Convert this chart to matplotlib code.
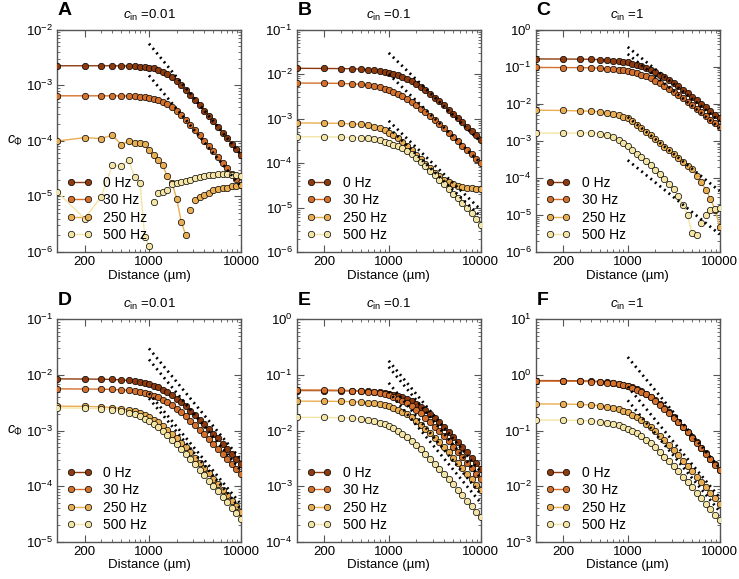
import numpy as np
import matplotlib
matplotlib.use("Agg")
import matplotlib.pyplot as plt
from matplotlib.lines import Line2D
from matplotlib.ticker import FixedLocator, FixedFormatter, LogLocator, NullFormatter

plt.rcParams['font.family'] = 'Liberation Sans'
plt.rcParams['mathtext.fontset'] = 'custom'
plt.rcParams['mathtext.rm'] = 'Liberation Sans'
plt.rcParams['mathtext.it'] = 'Liberation Sans:italic'
plt.rcParams['mathtext.bf'] = 'Liberation Sans:bold'

# ---------------------------
# DATA
# ---------------------------
freq_labels = ['0 Hz', '30 Hz', '250 Hz', '500 Hz']
freq_colors = ['#8c3a0e', '#d2702c', '#e9ad52', '#f4e5a6']

distance = [100, 200, 300, 400, 500, 600, 700, 800, 900, 1000,
            1120, 1260, 1410, 1580, 1780, 2000, 2240, 2510, 2820, 3160,
            3550, 3980, 4470, 5010, 5620, 6310, 7080, 7940, 8910, 10000]

# negative values = sign flip (marker shows |c|, line only where c > 0)
a_0hz = [2.24e-3, 2.24e-3, 2.24e-3, 2.235e-3, 2.23e-3, 2.22e-3, 2.2e-3, 2.17e-3, 2.13e-3, 2.08e-3,
         2.0e-3, 1.89e-3, 1.75e-3, 1.58e-3, 1.39e-3, 1.19e-3, 1.0e-3, 8.28e-4, 6.75e-4, 5.46e-4,
         4.38e-4, 3.51e-4, 2.8e-4, 2.23e-4, 1.77e-4, 1.41e-4, 1.12e-4, 8.9e-5, 7.1e-5, 5.6e-5]
a_30hz = [6.45e-4, 6.45e-4, 6.45e-4, 6.44e-4, 6.42e-4, 6.39e-4, 6.33e-4, 6.25e-4, 6.14e-4, 6.0e-4,
          5.77e-4, 5.46e-4, 5.06e-4, 4.56e-4, 4.02e-4, 3.44e-4, 2.89e-4, 2.39e-4, 1.95e-4, 1.57e-4,
          1.26e-4, 1.01e-4, 8.07e-5, 6.43e-5, 5.12e-5, 4.07e-5, 3.23e-5, 2.57e-5, 2.04e-5, 1.62e-5]
a_250hz = [9.9e-5, 1.14e-4, 1.10e-4, 1.26e-4, 8.55e-5, 9.9e-5, 9.1e-5, 9.1e-5, 8.65e-5, 6.7e-5,
           5.5e-5, 4.5e-5, 3.6e-5, 2.3e-5, 1.74e-5, 9.1e-6, 3.5e-6, 2.0e-6, -5.6e-6, -8.5e-6,
           -9.7e-6, -1.04e-5, -1.15e-5, -1.28e-5, -1.37e-5, -1.4e-5, -1.43e-5, -1.51e-5, -1.55e-5, -1.58e-5]
a_500hz = [1.2e-5, 4.0e-6, 9.7e-6, 3.6e-5, 3.5e-5, 4.5e-5, 2.2e-5, 1.74e-5, 1.85e-6, 1.3e-6,
           -7.9e-6, -1.15e-5, -1.2e-5, -1.28e-5, -1.7e-5, -1.75e-5, -1.8e-5, -1.9e-5, -2.0e-5, -2.1e-5,
           -2.2e-5, -2.3e-5, -2.4e-5, -2.45e-5, -2.5e-5, -2.55e-5, -2.5e-5, -2.45e-5, -2.4e-5, -2.3e-5]

b_0hz = [1.35e-2, 1.34e-2, 1.33e-2, 1.32e-2, 1.29e-2, 1.26e-2, 1.22e-2, 1.18e-2, 1.13e-2, 1.08e-2,
         1.02e-2, 9.44e-3, 8.62e-3, 7.75e-3, 6.85e-3, 5.96e-3, 5.1e-3, 4.31e-3, 3.6e-3, 2.97e-3,
         2.43e-3, 1.98e-3, 1.6e-3, 1.29e-3, 1.04e-3, 8.3e-4, 6.63e-4, 5.3e-4, 4.22e-4, 3.36e-4]
b_30hz = [6.30e-3, 6.26e-3, 6.18e-3, 6.04e-3, 5.85e-3, 5.61e-3, 5.35e-3, 5.05e-3, 4.74e-3, 4.42e-3,
          4.03e-3, 3.62e-3, 3.2e-3, 2.79e-3, 2.39e-3, 2.02e-3, 1.68e-3, 1.39e-3, 1.14e-3, 9.27e-4,
          7.5e-4, 6.04e-4, 4.85e-4, 3.88e-4, 3.1e-4, 2.48e-4, 1.97e-4, 1.57e-4, 1.25e-4, 9.96e-5]
b_250hz = [8.0e-4, 7.9e-4, 7.8e-4, 7.6e-4, 7.4e-4, 7.1e-4, 6.6e-4, 6.0e-4, 5.4e-4, 4.8e-4,
           4.2e-4, 3.6e-4, 3.0e-4, 2.45e-4, 1.95e-4, 1.55e-4, 1.22e-4, 9.6e-5, 7.6e-5, 6.1e-5,
           5.0e-5, 4.25e-5, 3.7e-5, 3.3e-5, 3.05e-5, 2.9e-5, 2.8e-5, 2.72e-5, 2.67e-5, 2.63e-5]
b_500hz = [3.9e-4, 3.9e-4, 3.8e-4, 3.75e-4, 3.7e-4, 3.6e-4, 3.45e-4, 3.25e-4, 3.05e-4, 2.8e-4,
           2.6e-4, 2.4e-4, 2.15e-4, 1.9e-4, 1.6e-4, 1.3e-4, 1.05e-4, 8.4e-5, 6.7e-5, 5.3e-5,
           4.2e-5, 3.3e-5, 2.6e-5, 2.05e-5, 1.6e-5, 1.25e-5, 9.8e-6, 7.6e-6, 5.6e-6, 4.0e-6]

c_0hz = [0.162, 0.161, 0.160, 0.158, 0.155, 0.152, 0.147, 0.142, 0.136, 0.130,
         0.122, 0.1135, 0.1036, 0.0932, 0.0823, 0.0716, 0.0613, 0.0518, 0.0433, 0.0357,
         0.0293, 0.0238, 0.0193, 0.0155, 0.0125, 0.00998, 0.00798, 0.00637, 0.00508, 0.00404]
c_30hz = [0.0954, 0.0948, 0.0942, 0.0931, 0.0914, 0.0893, 0.0866, 0.0836, 0.0802, 0.0767,
          0.0721, 0.0668, 0.061, 0.0549, 0.0485, 0.0422, 0.0361, 0.0305, 0.0255, 0.021,
          0.0173, 0.014, 0.01135, 0.00913, 0.00734, 0.00588, 0.0047, 0.00375, 0.00299, 0.00238]
c_250hz = [6.7e-3, 6.6e-3, 6.4e-3, 6.3e-3, 6.0e-3, 5.7e-3, 5.3e-3, 4.9e-3, 4.5e-3, 4.1e-3,
           3.4e-3, 2.75e-3, 2.2e-3, 1.75e-3, 1.4e-3, 1.1e-3, 8.7e-4, 6.9e-4, 5.5e-4, 4.35e-4,
           3.45e-4, 2.7e-4, 2.15e-4, 1.7e-4, 1.15e-4, 7.5e-5, 4.8e-5, 2.65e-5, 1.39e-5, 4.7e-6]
c_500hz = [1.63e-3, 1.6e-3, 1.62e-3, 1.63e-3, 1.55e-3, 1.42e-3, 1.23e-3, 1.04e-3, 8.8e-4, 7.1e-4,
           5.8e-4, 4.5e-4, 3.7e-4, 2.9e-4, 2.2e-4, 1.68e-4, 1.31e-4, 9.6e-5, 7.0e-5, 5.1e-5,
           3.2e-5, 1.8e-5, 9.8e-6, 3.2e-6, 2.8e-6, -6.2e-6, -9.8e-6, -1.34e-5, -1.48e-5, -1.5e-5]

d_0hz = [8.5e-3, 8.45e-3, 8.4e-3, 8.3e-3, 8.14e-3, 7.96e-3, 7.72e-3, 7.45e-3, 7.15e-3, 6.83e-3,
         6.42e-3, 5.96e-3, 5.44e-3, 4.89e-3, 4.32e-3, 3.76e-3, 3.22e-3, 2.72e-3, 2.27e-3, 1.87e-3,
         1.57e-3, 1.3e-3, 1.07e-3, 8.8e-4, 7.2e-4, 5.8e-4, 4.73e-4, 3.8e-4, 3.1e-4, 2.5e-4]
d_30hz = [5.62e-3, 5.59e-3, 5.55e-3, 5.49e-3, 5.38e-3, 5.26e-3, 5.1e-3, 4.92e-3, 4.73e-3, 4.51e-3,
          4.24e-3, 3.94e-3, 3.6e-3, 3.23e-3, 2.86e-3, 2.49e-3, 2.13e-3, 1.8e-3, 1.5e-3, 1.24e-3,
          1.04e-3, 8.6e-4, 7.08e-4, 5.82e-4, 4.75e-4, 3.84e-4, 3.13e-4, 2.52e-4, 2.04e-4, 1.65e-4]
d_250hz = [2.75e-3, 2.72e-3, 2.67e-3, 2.59e-3, 2.49e-3, 2.35e-3, 2.21e-3, 2.06e-3, 1.9e-3, 1.76e-3,
           1.58e-3, 1.4e-3, 1.22e-3, 1.04e-3, 8.8e-4, 7.34e-4, 6.07e-4, 4.97e-4, 4.04e-4, 3.27e-4,
           2.64e-4, 2.12e-4, 1.69e-4, 1.35e-4, 1.08e-4, 8.62e-5, 6.87e-5, 5.46e-5, 4.35e-5, 3.46e-5]
d_500hz = [2.56e-3, 2.53e-3, 2.47e-3, 2.38e-3, 2.26e-3, 2.11e-3, 1.95e-3, 1.79e-3, 1.63e-3, 1.48e-3,
           1.3e-3, 1.14e-3, 9.72e-4, 8.21e-4, 6.86e-4, 5.66e-4, 4.64e-4, 3.77e-4, 3.05e-4, 2.46e-4,
           1.98e-4, 1.58e-4, 1.26e-4, 1.01e-4, 8.04e-5, 6.41e-5, 5.1e-5, 4.06e-5, 3.23e-5, 2.56e-5]

e_0hz = [0.0525, 0.0524, 0.0521, 0.0517, 0.0512, 0.0505, 0.0496, 0.0486, 0.0474, 0.046,
         0.0443, 0.0421, 0.0396, 0.0367, 0.0335, 0.0301, 0.0266, 0.0232, 0.0199, 0.0168,
         0.014, 0.01157, 0.00947, 0.0077, 0.00624, 0.00502, 0.00403, 0.00323, 0.00258, 0.00206]
e_30hz = [0.0536, 0.0534, 0.053, 0.0524, 0.0514, 0.0502, 0.0487, 0.047, 0.0451, 0.0431,
          0.0405, 0.0376, 0.0343, 0.0309, 0.0272, 0.0237, 0.0203, 0.01715, 0.01434, 0.01182,
          0.0097, 0.00788, 0.00638, 0.00514, 0.00413, 0.0033, 0.00264, 0.00211, 0.00168, 0.00134]
e_250hz = [0.0338, 0.0337, 0.0334, 0.0331, 0.0324, 0.0317, 0.0307, 0.0297, 0.0285, 0.0272,
           0.0256, 0.0237, 0.0216, 0.0195, 0.0172, 0.015, 0.0128, 0.0108, 0.00905, 0.00746,
           0.00612, 0.00497, 0.00403, 0.00324, 0.00261, 0.00208, 0.00167, 0.00133, 0.00106, 8.46e-4]
e_500hz = [0.01735, 0.01724, 0.017, 0.01663, 0.01611, 0.01545, 0.01473, 0.01391, 0.01305, 0.01217,
           0.0111, 0.00997, 0.00881, 0.00768, 0.00658, 0.00556, 0.00463, 0.00383, 0.00314, 0.00255,
           0.00207, 0.00166, 0.00134, 0.00107, 8.54e-4, 6.82e-4, 5.44e-4, 4.33e-4, 3.45e-4, 2.74e-4]

f_0hz = [0.793, 0.79, 0.784, 0.775, 0.760, 0.742, 0.720, 0.695, 0.667, 0.637,
         0.599, 0.556, 0.507, 0.457, 0.402, 0.351, 0.300, 0.254, 0.212, 0.175,
         0.1435, 0.1165, 0.0944, 0.076, 0.0611, 0.0488, 0.039, 0.0312, 0.0248, 0.0198]
f_30hz = [0.777, 0.774, 0.768, 0.760, 0.745, 0.727, 0.706, 0.681, 0.654, 0.624,
          0.587, 0.545, 0.497, 0.448, 0.394, 0.344, 0.294, 0.249, 0.208, 0.1715,
          0.1406, 0.1142, 0.0925, 0.0745, 0.0599, 0.0478, 0.0382, 0.0306, 0.0243, 0.0194]
f_250hz = [0.3015, 0.2996, 0.2955, 0.289, 0.28, 0.2685, 0.256, 0.2417, 0.2269, 0.2115,
           0.1929, 0.1733, 0.1532, 0.1335, 0.1144, 0.0967, 0.0804, 0.0665, 0.0546, 0.0444,
           0.0359, 0.0289, 0.0232, 0.0186, 0.01484, 0.01185, 0.00945, 0.00752, 0.00599, 0.00477]
f_500hz = [0.1546, 0.1537, 0.1516, 0.1482, 0.1436, 0.1377, 0.1313, 0.124, 0.1164, 0.1085,
           0.0989, 0.0889, 0.0786, 0.0685, 0.0587, 0.0496, 0.0412, 0.0341, 0.028, 0.0228,
           0.0184, 0.0148, 0.0119, 0.00954, 0.00761, 0.00608, 0.00485, 0.00386, 0.00307, 0.00245]

# far-field guide lines: value at 1000 um and at 10000 um
fit_x = [1000, 10000]
a_fits = [(5.6e-3, 5.6e-5), (1.5e-3, 1.5e-5)]
b_fits = [(3.0e-2, 3.0e-4), (1.0e-2, 1.0e-4), (8.9e-4, 8.9e-6), (6.2e-4, 6.2e-6)]
c_fits = [(0.34, 3.4e-3), (0.22, 2.2e-3), (4.4e-3, 4.4e-5), (3.0e-4, 3.0e-6)]
d_fits = [(0.030, 3.0e-4), (0.019, 1.9e-4), (4.7e-3, 4.7e-5), (3.8e-3, 3.8e-5)]
e_fits = [(0.18, 1.8e-3), (0.14, 1.4e-3), (0.072, 7.2e-4), (0.05, 5.0e-4)]
f_fits = [(2.1, 0.021), (0.62, 6.2e-3), (0.35, 3.5e-3)]

c_in = ['0.01', '0.1', '1', '0.01', '0.1', '1']
letters = ['A', 'B', 'C', 'D', 'E', 'F']
ylims = [(1e-6, 1e-2), (1e-6, 1e-1), (1e-6, 1e0), (1e-5, 1e-1), (1e-4, 1e0), (1e-3, 1e1)]

panel_series = [
    [a_0hz, a_30hz, a_250hz, a_500hz],
    [b_0hz, b_30hz, b_250hz, b_500hz],
    [c_0hz, c_30hz, c_250hz, c_500hz],
    [d_0hz, d_30hz, d_250hz, d_500hz],
    [e_0hz, e_30hz, e_250hz, e_500hz],
    [f_0hz, f_30hz, f_250hz, f_500hz],
]
panel_fits = [a_fits, b_fits, c_fits, d_fits, e_fits, f_fits]

# ---------------------------
# FIGURE
# ---------------------------
fig = plt.figure(figsize=(7.39, 5.79), dpi=100)

lefts = [0.0771, 0.4015, 0.7249]
bottoms = [0.5648, 0.0644]
width, height = 0.249, 0.384
spine_col = '#555555'

for i in range(6):
    row, col = divmod(i, 3)
    ax = fig.add_axes([lefts[col], bottoms[row], width, height])
    ax.set_xscale('log')
    ax.set_yscale('log')

    for vals, color in zip(panel_series[i], freq_colors):
        v = np.array(vals)
        pos = np.where(v > 0, v, np.nan)
        ax.plot(distance, pos, '-', color=color, lw=1.0, zorder=2)
        ax.plot(distance, np.abs(v), 'o', ms=4.6, mfc=color, mec='black',
                mew=0.5, zorder=3)

    for start, end in panel_fits[i]:
        ax.plot(fit_x, [start, end], color='black', lw=2.0,
                linestyle=(0, (0.7, 1.4)), zorder=4)

    ax.set_xlim(100, 10000)
    ax.set_ylim(*ylims[i])

    ax.xaxis.set_major_locator(FixedLocator([200, 1000, 10000]))
    ax.xaxis.set_major_formatter(FixedFormatter(['200', '1000', '10000']))
    ax.xaxis.set_minor_locator(FixedLocator([300, 400, 500, 600, 700, 800, 900,
                                             2000, 3000, 4000, 5000, 6000, 7000, 8000, 9000]))
    ax.xaxis.set_minor_formatter(NullFormatter())
    ax.yaxis.set_major_locator(LogLocator(base=10, numticks=12))
    ax.yaxis.set_minor_locator(LogLocator(base=10, subs=np.arange(2, 10), numticks=12))
    ax.yaxis.set_minor_formatter(NullFormatter())

    ax.tick_params(which='both', direction='in', top=True, right=True,
                   color=spine_col, labelsize=9.5, pad=3)
    ax.tick_params(which='major', length=5, width=0.8)
    ax.tick_params(which='minor', length=2.5, width=0.6)
    for s in ax.spines.values():
        s.set_color(spine_col)
        s.set_linewidth(1.0)

    ax.set_xlabel('Distance (µm)', fontsize=9.5, labelpad=1)
    ax.set_title(r'$c_{\mathrm{in}}$ =' + c_in[i], fontsize=9.5, pad=8)

    fig.text(lefts[col] + 0.001, bottoms[row] + height + 0.025, letters[i],
             fontsize=14, fontweight='bold')

    handles = [Line2D([], [], color=c, lw=1.0, marker='o', ms=4.6, mfc=c,
                      mec='black', mew=0.5) for c in freq_colors]
    ax.legend(handles, freq_labels, loc='lower left', frameon=False,
              numpoints=2, handlelength=1.8, fontsize=10, labelspacing=0.25,
              borderaxespad=0.3, handletextpad=0.8)

    if col == 0:
        fig.text(0.009, bottoms[row] + 0.5 * height, r'$c_{\Phi}$',
                 fontsize=10, va='center')

fig.savefig('out.png', dpi=100)
